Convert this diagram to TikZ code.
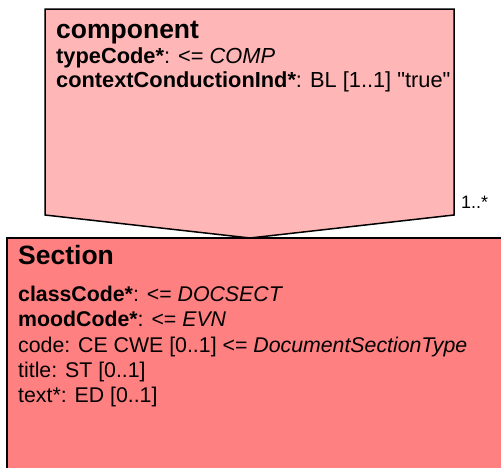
\documentclass[tikz,border=0pt]{standalone}
\usepackage{fontspec}
\setmainfont{Liberation Sans}[Ligatures=TeXOff]
\usepackage{tikz}
\usetikzlibrary{positioning}
\definecolor{actrel}{RGB}{255,182,182}
\definecolor{act}{RGB}{255,128,128}

\begin{document}
\begin{tikzpicture}[
  x=1pt, y=-1pt,
  box/.style={draw=black, line width=1.5pt, line join=miter},
  clsname/.style={anchor=base west, inner sep=0pt,
                  font=\fontsize{26.5}{30}\selectfont\bfseries},
  attr/.style={anchor=base west, inner sep=0pt, font=\fontsize{21.3}{25}\selectfont},
  mult/.style={anchor=base west, inner sep=0pt, font=\fontsize{18}{21}\selectfont}
]
\useasboundingbox (0,0) rectangle (501,467);
\clip (0,0) rectangle (501,467);

% Section class box (runs off the page)
\draw[box, fill=act] (7,238) rectangle (520,490);

% component relationship arrow
\draw[box, fill=actrel] (45,9) -- (454,9) -- (454,215) -- (250,238) -- (45,215) -- cycle;

\node[clsname] (cmpTitle) at (56,38) {component};
\node[attr, font=\fontsize{21.8}{25}\selectfont] (cmpType) at (56,63) {\textbf{typeCode*}: <= \textit{COMP}};
\node[attr, font=\fontsize{21.8}{25}\selectfont] (cmpCtx)  at (56,87)
  {\textbf{contextConductionInd*}: BL [1..1] "true"};
\node[mult] (cmpMult) at (461,208) {1..*};

\node[clsname] (secTitle) at (18,264) {Section};
\node[attr] (secClass) at (18,301) {\textbf{classCode*}: <= \textit{DOCSECT}};
\node[attr] (secMood)  at (18,326) {\textbf{moodCode*}: <= \textit{EVN}};
\node[attr] (secCode)  at (18,352) {code: CE CWE [0..1] <= \textit{DocumentSectionType}};
\node[attr] (secTtl)   at (18,377) {title: ST [0..1]};
\node[attr] (secText)  at (18,402) {text*: ED [0..1]};

\end{tikzpicture}
\end{document}
